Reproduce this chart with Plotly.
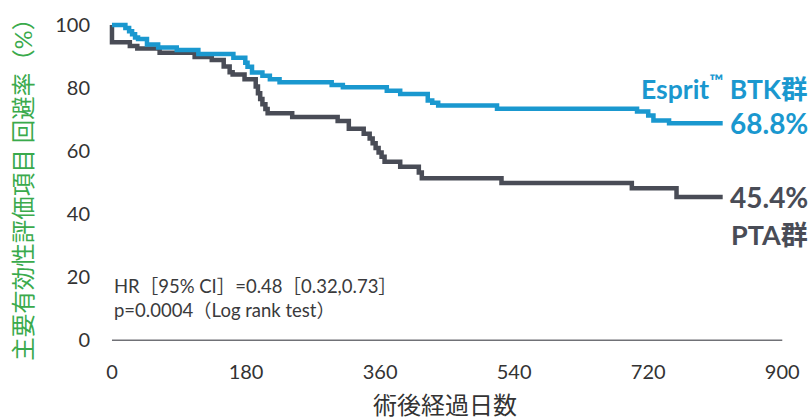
import plotly.graph_objects as go

# Kaplan-Meier style survival (freedom from primary endpoint) data
btk_days = [0, 18, 23, 27, 31, 35, 47, 62, 87, 116, 163, 179, 182, 188, 202, 212, 225, 295, 310,
            369, 387, 424, 430, 438, 517, 705, 720, 727, 748, 820]
btk_surv = [100, 99, 98, 97, 96, 95.5, 93.8, 92.8, 92.0, 90.8, 89.6, 88.0, 86.7, 84.9, 83.9, 82.8, 81.8, 80.9, 80.2,
            79.1, 78.1, 76.0, 75.3, 74.4, 73.4, 72.5, 71.3, 69.7, 68.8, 68.8]

pta_days = [0, 0, 24, 34, 64, 111, 134, 150, 158, 162, 178, 193, 196, 199, 202, 206, 209, 242, 303, 318,
            338, 346, 350, 354, 358, 362, 366, 387, 412, 416, 523, 698, 758, 820]
pta_surv = [100, 94.5, 93.3, 92.5, 91.2, 89.8, 88.9, 86.8, 85.0, 84.3, 82.8, 80.5, 78.3, 76.5, 74.8, 73.3, 72.0, 70.8, 69.5, 67.1,
            65.5, 64.0, 62.5, 61.0, 59.5, 58.2, 56.6, 55.0, 53.2, 51.4, 49.9, 48.2, 45.4, 45.4]

x_ticks = [0, 180, 360, 540, 720, 900]
y_ticks = [0, 20, 40, 60, 80, 100]

btk_label = "Esprit<sup>™</sup> BTK群"
btk_final = "68.8%"
pta_final = "45.4%"
pta_label = "PTA群"
stat_line1 = "HR［95% CI］=0.48［0.32,0.73］"
stat_line2 = "p=0.0004（Log rank test）"
x_title = "術後経過日数"
y_title = "主要有効性評価項目 回避率（%）"

BLUE = "#1a98cf"
DARK = "#494c56"
GREEN = "#3aaa4c"
FONT = "Lato, 'Noto Sans CJK JP', sans-serif"

fig = go.Figure()
fig.add_trace(go.Scatter(x=pta_days, y=pta_surv, mode="lines", line=dict(color=DARK, width=4.5, shape="hv"),
                         showlegend=False))
fig.add_trace(go.Scatter(x=btk_days, y=btk_surv, mode="lines", line=dict(color=BLUE, width=4.5, shape="hv"),
                         showlegend=False))

fig.add_shape(type="line", xref="x", yref="y", x0=0, x1=x_ticks[-1], y0=0, y1=0,
              line=dict(color="#707176", width=1.5), layer="below")

ann = []
ann.append(dict(text=btk_label, x=1.0352, y=0.7855, xanchor="right", yanchor="middle",
                font=dict(size=26.5, color=BLUE, family=FONT, weight="bold")))
ann.append(dict(text=btk_final, x=1.0352, y=0.6766, xanchor="right", yanchor="middle",
                font=dict(size=28, color=BLUE, family=FONT, weight="bold")))
ann.append(dict(text=pta_final, x=1.0352, y=0.4498, xanchor="right", yanchor="middle",
                font=dict(size=28, color=DARK, family=FONT, weight="bold")))
ann.append(dict(text=pta_label, x=1.0352, y=0.3379, xanchor="right", yanchor="middle",
                font=dict(size=27, color=DARK, family=FONT, weight="bold")))
ann.append(dict(text=stat_line1, x=0.004, y=0.181, xanchor="left", yanchor="middle",
                font=dict(size=18.5, color="#3a3a3c", family=FONT)))
ann.append(dict(text=stat_line2, x=0.004, y=0.106, xanchor="left", yanchor="middle",
                font=dict(size=18.5, color="#3a3a3c", family=FONT)))
ann.append(dict(text=x_title, x=0.496, y=-0.182, xanchor="center", yanchor="middle",
                font=dict(size=24, color="#333333", family=FONT)))
ann.append(dict(text=y_title, x=-0.127, y=0.492, xanchor="center", yanchor="middle", textangle=-90,
                font=dict(size=23.5, color=GREEN, family=FONT)))
for a in ann:
    a.update(xref="paper", yref="paper", showarrow=False)

fig.update_layout(
    width=812, height=419,
    margin=dict(l=109, r=25.8, t=14.05, b=74.25),
    paper_bgcolor="white", plot_bgcolor="white",
    font=dict(family=FONT, size=20, color="#333333"),
    annotations=ann,
    xaxis=dict(range=[-4, 905], tickvals=x_ticks, showgrid=False, zeroline=False, showline=False,
               ticks="", ticklabelstandoff=13, tickfont=dict(size=20, color="#333333")),
    yaxis=dict(range=[-1.5, 102.5], tickvals=y_ticks, showgrid=False, zeroline=False, showline=False,
               ticks="", ticklabelstandoff=18, tickfont=dict(size=20, color="#333333")),
)

fig.write_html("out.html", config={"displayModeBar": False},
               post_script="document.body.style.margin='0px';document.body.style.padding='0px';")
